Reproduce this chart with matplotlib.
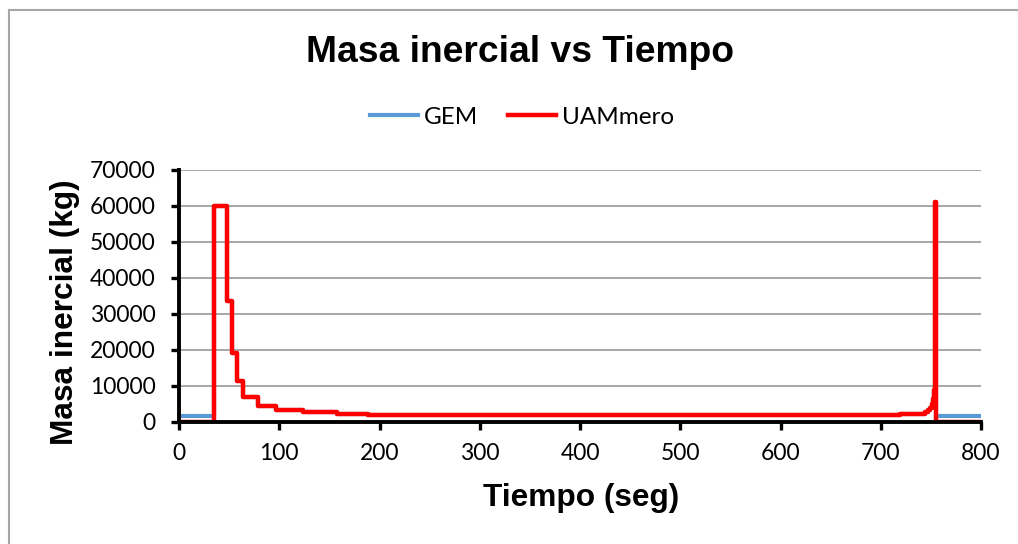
import matplotlib
matplotlib.use("Agg")
import matplotlib.pyplot as plt
from matplotlib.lines import Line2D

# step breakpoints (seg) and inertial mass (kg)
tiempo = [0, 35, 48, 53, 58, 64, 79, 97, 124, 158, 189, 719, 738, 744, 747,
          749, 751, 752, 753, 754, 755, 756, 800]
uam_mero = [0, 60000, 33500, 19200, 11300, 6900, 4500, 3300, 2700, 2200, 1900,
            2100, 2300, 2700, 3300, 4000, 5000, 6500, 9000, 61000, 0, 0, 0]
gem = [1750, 60000, 33500, 19200, 11300, 6900, 4500, 3300, 2700, 2200, 1900,
       2100, 2300, 2700, 3300, 4000, 5000, 6500, 9000, 61000, 1750, 1750, 1750]

x_ticks = [0, 100, 200, 300, 400, 500, 600, 700, 800]
y_ticks = [0, 10000, 20000, 30000, 40000, 50000, 60000, 70000]

plt.rcParams['font.family'] = ['Lato', 'DejaVu Sans']

fig = plt.figure(figsize=(10.18, 5.44), dpi=100)
ax = fig.add_axes([179 / 1018, 1 - 422 / 544, (981 - 179) / 1018, (422 - 170) / 544])

ax.plot(tiempo, gem, drawstyle="steps-post", color="#5b9bd5", lw=3.0, label="GEM")
ax.plot(tiempo, uam_mero, drawstyle="steps-post", color="#ff0000", lw=3.2, label="UAMmero")

ax.set_xlim(0, 800)
ax.set_ylim(0, 70000)
ax.set_xticks(x_ticks)
ax.set_yticks(y_ticks)
ax.tick_params(axis="both", labelsize=16.5, direction="out", length=6, width=2.4)
ax.tick_params(axis="y", pad=11)
ax.tick_params(axis="x", pad=9)
ax.grid(axis="y", color="#a0a0a0", lw=1.3)
ax.set_axisbelow(True)

for side in ["top", "right"]:
  ax.spines[side].set_visible(False)
for side in ["left", "bottom"]:
  ax.spines[side].set_linewidth(2.8)
  ax.spines[side].set_color("black")

fig.text(520 / 1018, 1 - 52 / 544, "Masa inercial vs Tiempo", ha="center", va="center",
         fontsize=26.8, fontweight="bold", family="Liberation Sans")
fig.text(581 / 1018, 1 - 498 / 544, "Tiempo (seg)", ha="center", va="center",
         fontsize=22.8, fontweight="bold", family="Liberation Sans")
fig.text(65 / 1018, 1 - 312 / 544, "Masa inercial (kg)", ha="center", va="center",
         rotation=90, fontsize=22.8, fontweight="bold", family="Liberation Sans")

fig.legend(loc="center", bbox_to_anchor=(522 / 1018, 1 - 117 / 544), ncol=2,
           frameon=False, fontsize=17.5, handlelength=2.0, columnspacing=1.2,
           handletextpad=0.25)

# chart area border
fig.add_artist(Line2D([9 / 1018, 9 / 1018], [0, 1 - 10 / 544], color="#a6a6a6", lw=1.5))
fig.add_artist(Line2D([9 / 1018, 1], [1 - 10 / 544, 1 - 10 / 544], color="#a6a6a6", lw=1.5))

fig.savefig("out.png", dpi=100)
